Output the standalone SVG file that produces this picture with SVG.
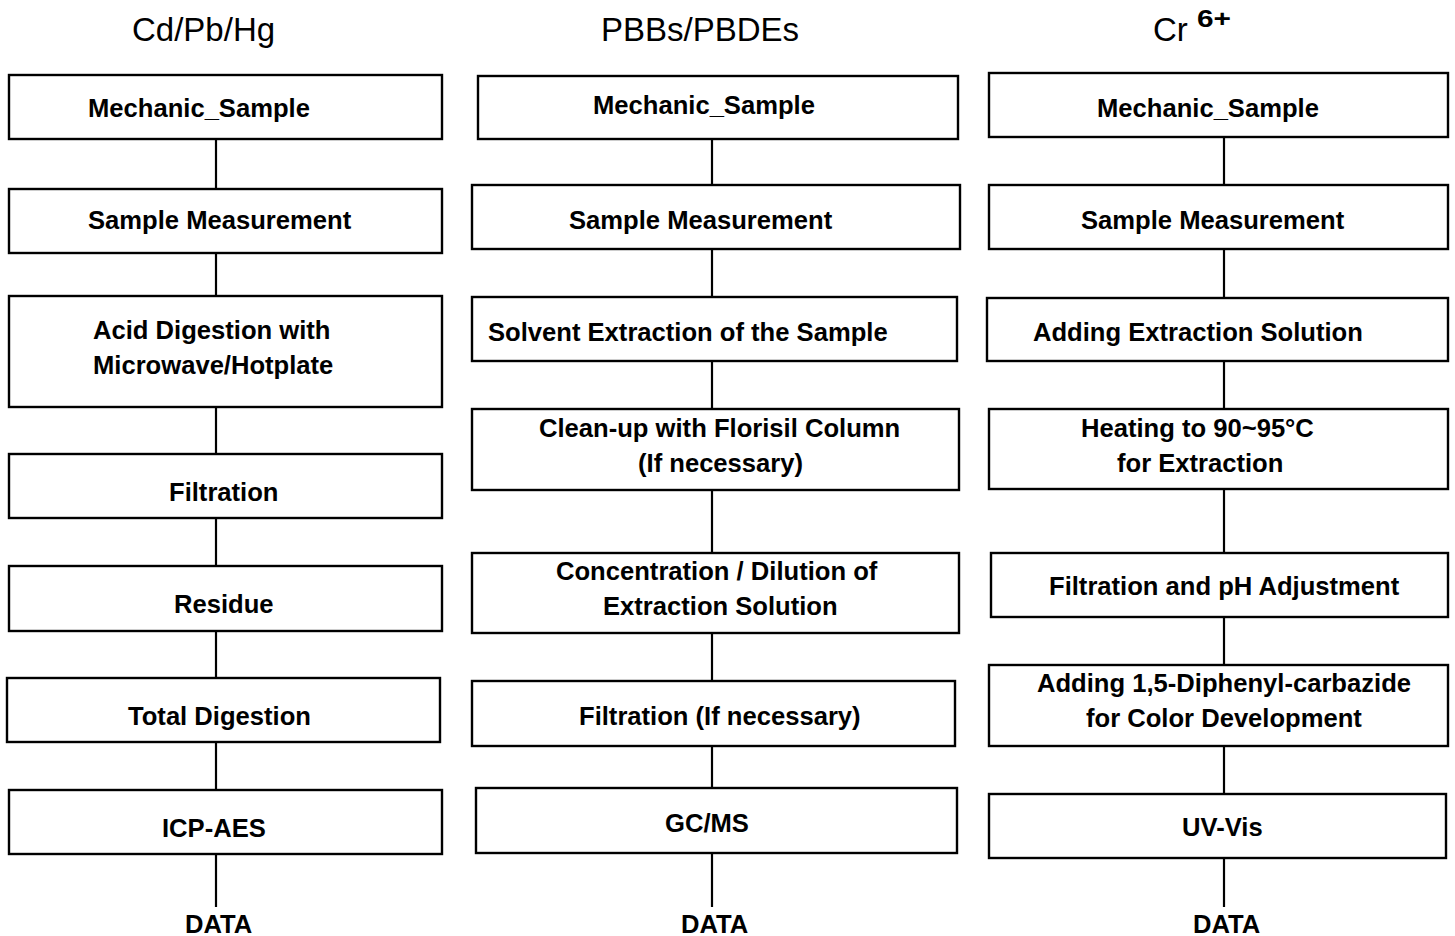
<svg xmlns="http://www.w3.org/2000/svg" width="1455" height="936" viewBox="0 0 1455 936">
<style>
  .box { fill: #ffffff; stroke: #000000; stroke-width: 2.4; }
  .lbl { font-family: "Liberation Sans", Arial, sans-serif; font-weight: bold; font-size: 25.6px; fill: #000000; }
  .ttl { font-family: "Liberation Sans", Arial, sans-serif; font-weight: normal; font-size: 33px; fill: #000000; }
  .sup { font-family: "Liberation Sans", Arial, sans-serif; font-weight: bold; font-size: 23px; fill: #000000; }
  .conn line { stroke: #000000; stroke-width: 2.2; }
</style>
<rect x="0" y="0" width="1455" height="936" fill="#ffffff"/>

<g id="titles">
  <text class="ttl" x="132" y="41">Cd/Pb/Hg</text>
  <text class="ttl" x="601" y="41">PBBs/PBDEs</text>
  <text class="ttl" x="1153" y="41">Cr</text>
  <text class="sup" x="1197" y="27" textLength="34" lengthAdjust="spacingAndGlyphs">6+</text>
</g>

<g id="connectors" class="conn">
  <line x1="216" y1="139" x2="216" y2="189"/>
  <line x1="216" y1="253" x2="216" y2="296"/>
  <line x1="216" y1="407" x2="216" y2="454"/>
  <line x1="216" y1="518" x2="216" y2="566"/>
  <line x1="216" y1="631" x2="216" y2="678"/>
  <line x1="216" y1="742" x2="216" y2="790"/>
  <line x1="216" y1="854" x2="216" y2="907"/>

  <line x1="712" y1="139" x2="712" y2="185"/>
  <line x1="712" y1="249" x2="712" y2="297"/>
  <line x1="712" y1="361" x2="712" y2="409"/>
  <line x1="712" y1="490" x2="712" y2="553"/>
  <line x1="712" y1="633" x2="712" y2="681"/>
  <line x1="712" y1="746" x2="712" y2="788"/>
  <line x1="712" y1="853" x2="712" y2="907"/>

  <line x1="1224" y1="137" x2="1224" y2="185"/>
  <line x1="1224" y1="249" x2="1224" y2="298"/>
  <line x1="1224" y1="361" x2="1224" y2="409"/>
  <line x1="1224" y1="489" x2="1224" y2="553"/>
  <line x1="1224" y1="617" x2="1224" y2="665"/>
  <line x1="1224" y1="746" x2="1224" y2="794"/>
  <line x1="1224" y1="858" x2="1224" y2="907"/>
</g>

<!-- Left column: Cd/Pb/Hg -->
<g id="L1"><rect class="box" x="9" y="75" width="433" height="64"/><text class="lbl" x="88" y="117">Mechanic_Sample</text></g>
<g id="L2"><rect class="box" x="9" y="189" width="433" height="64"/><text class="lbl" x="88" y="229">Sample Measurement</text></g>
<g id="L3"><rect class="box" x="9" y="296" width="433" height="111"/><text class="lbl" x="93" y="339">Acid Digestion with</text><text class="lbl" x="93" y="374">Microwave/Hotplate</text></g>
<g id="L4"><rect class="box" x="9" y="454" width="433" height="64"/><text class="lbl" x="169" y="501">Filtration</text></g>
<g id="L5"><rect class="box" x="9" y="566" width="433" height="65"/><text class="lbl" x="174" y="613">Residue</text></g>
<g id="L6"><rect class="box" x="7" y="678" width="433" height="64"/><text class="lbl" x="128" y="725">Total Digestion</text></g>
<g id="L7"><rect class="box" x="9" y="790" width="433" height="64"/><text class="lbl" x="162" y="837">ICP-AES</text></g>
<g id="L8"><text class="lbl" x="185" y="933">DATA</text></g>

<!-- Middle column: PBBs/PBDEs -->
<g id="M1"><rect class="box" x="478" y="76" width="480" height="63"/><text class="lbl" x="593" y="114">Mechanic_Sample</text></g>
<g id="M2"><rect class="box" x="472" y="185" width="488" height="64"/><text class="lbl" x="569" y="229">Sample Measurement</text></g>
<g id="M3"><rect class="box" x="472" y="297" width="485" height="64"/><text class="lbl" x="488" y="341">Solvent Extraction of the Sample</text></g>
<g id="M4"><rect class="box" x="472" y="409" width="487" height="81"/><text class="lbl" x="539" y="437">Clean-up with Florisil Column</text><text class="lbl" x="638" y="472">(If necessary)</text></g>
<g id="M5"><rect class="box" x="472" y="553" width="487" height="80"/><text class="lbl" x="556" y="580">Concentration / Dilution of</text><text class="lbl" x="603" y="615">Extraction Solution</text></g>
<g id="M6"><rect class="box" x="472" y="681" width="483" height="65"/><text class="lbl" x="579" y="725">Filtration (If necessary)</text></g>
<g id="M7"><rect class="box" x="476" y="788" width="481" height="65"/><text class="lbl" x="665" y="832">GC/MS</text></g>
<g id="M8"><text class="lbl" x="681" y="933">DATA</text></g>

<!-- Right column: Cr6+ -->
<g id="R1"><rect class="box" x="989" y="73" width="459" height="64"/><text class="lbl" x="1097" y="117">Mechanic_Sample</text></g>
<g id="R2"><rect class="box" x="989" y="185" width="459" height="64"/><text class="lbl" x="1081" y="229">Sample Measurement</text></g>
<g id="R3"><rect class="box" x="987" y="298" width="461" height="63"/><text class="lbl" x="1033" y="341">Adding Extraction Solution</text></g>
<g id="R4"><rect class="box" x="989" y="409" width="459" height="80"/><text class="lbl" x="1081" y="437">Heating to 90~95°C</text><text class="lbl" x="1117" y="472">for Extraction</text></g>
<g id="R5"><rect class="box" x="991" y="553" width="457" height="64"/><text class="lbl" x="1049" y="595">Filtration and pH Adjustment</text></g>
<g id="R6"><rect class="box" x="989" y="665" width="459" height="81"/><text class="lbl" x="1037" y="692">Adding 1,5-Diphenyl-carbazide</text><text class="lbl" x="1086" y="727">for Color Development</text></g>
<g id="R7"><rect class="box" x="989" y="794" width="457" height="64"/><text class="lbl" x="1182" y="836">UV-Vis</text></g>
<g id="R8"><text class="lbl" x="1193" y="933">DATA</text></g>
</svg>
